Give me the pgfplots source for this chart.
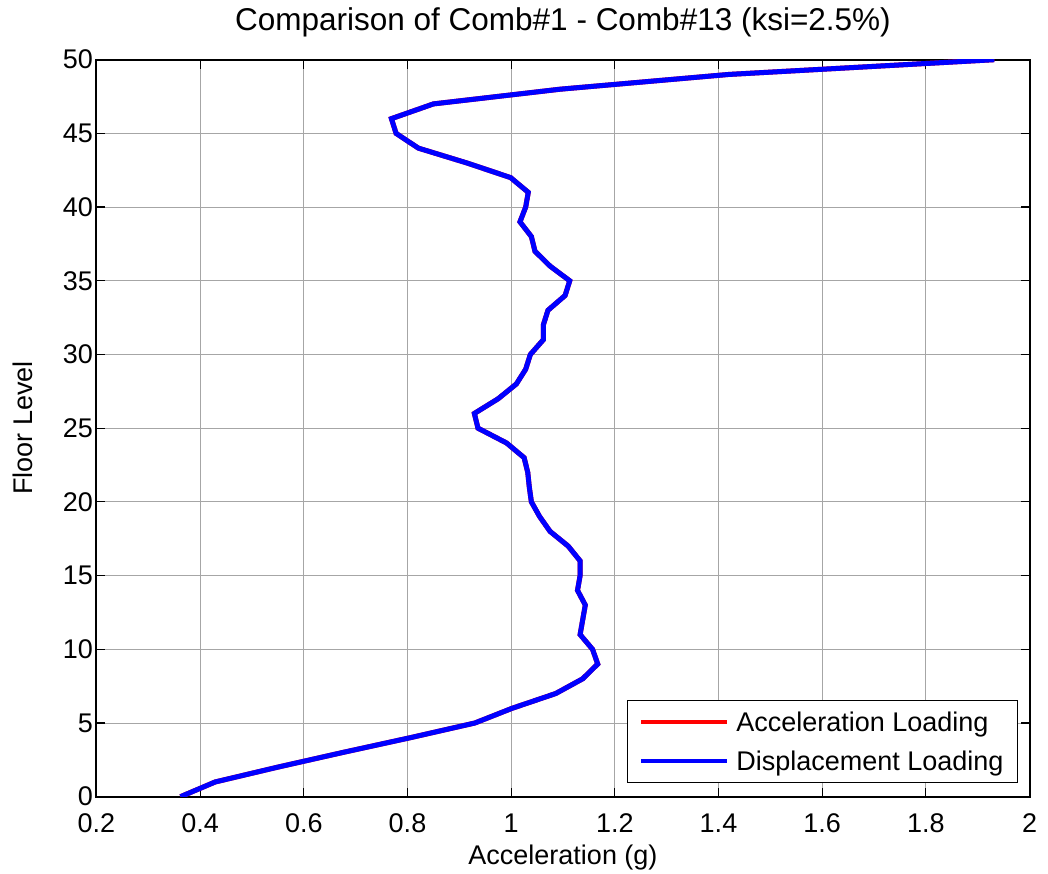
\documentclass[border=0pt]{standalone}
\usepackage{pgfplots}
\pgfplotsset{compat=1.18}
\usepackage{fontspec}
\setmainfont{Liberation Sans}
\newcommand{\lbl}{\fontsize{27bp}{30bp}\selectfont}
\newcommand{\ttl}{\fontsize{31.5bp}{34bp}\selectfont}
\begin{document}
\begin{tikzpicture}
\begin{axis}[
  scale only axis,
  width=933bp, height=737bp,
  xmin=0.2, xmax=2, ymin=0, ymax=50,
  xtick={0.2,0.4,...,2.01},
  ytick={0,5,...,50},
  xticklabels={0.2,0.4,0.6,0.8,1,1.2,1.4,1.6,1.8,2},
  /pgf/number format/assume math mode=true,
  tick label style={font=\lbl},
  xticklabel style={anchor=base, yshift=-36bp},
  yticklabel style={anchor=east},
  tick align=inside,
  xtick pos=both, ytick pos=both,
  major tick length=9bp,
  tick style={black, line width=1.2bp},
  axis line style={black, line width=2bp},
  grid=major,
  grid style={gray!70, line width=0.9bp},
  xlabel={Acceleration (g)},
  ylabel={Floor Level},
  label style={font=\lbl},
  xlabel style={at={(axis description cs:0.5,-0.083)}, anchor=center},
  ylabel style={at={(axis description cs:-0.079,0.5)}, anchor=center, rotate=0},
  title={Comparison of Comb\#1 - Comb\#13 (ksi=2.5\%)},
  title style={font=\ttl, at={(axis description cs:0.5,1.043)}, anchor=center},
  legend style={at={(rel axis cs:0.988,0.018)}, anchor=south east,
    font=\lbl, draw=black, line width=1.5bp, inner xsep=12bp, inner ysep=9bp,
    row sep=14bp, /tikz/every odd column/.append style={column sep=5bp}},
  legend cell align=left,
  legend image code/.code={\draw[#1, line width=4bp] (0bp,0bp) -- (86bp,0bp);},
]
\addplot[red, line width=5bp] table[x=acc, y=floor] {
floor acc
0 0.362
1 0.429
2 0.549
3 0.675
4 0.805
5 0.930
6 1.002
7 1.086
8 1.138
9 1.167
10 1.157
11 1.133
12 1.138
13 1.143
14 1.128
15 1.133
16 1.133
17 1.110
18 1.075
19 1.055
20 1.039
21 1.035
22 1.032
23 1.025
24 0.991
25 0.936
26 0.929
27 0.975
28 1.010
29 1.028
30 1.037
31 1.062
32 1.062
33 1.071
34 1.104
35 1.113
36 1.075
37 1.046
38 1.039
39 1.017
40 1.028
41 1.033
42 0.999
43 0.914
44 0.821
45 0.778
46 0.769
47 0.850
48 1.095
49 1.420
50 1.932
};
\addlegendentry{Acceleration Loading}
\addplot[blue, line width=5bp] table[x=acc, y=floor] {
floor acc
0 0.362
1 0.429
2 0.549
3 0.675
4 0.805
5 0.930
6 1.002
7 1.086
8 1.138
9 1.167
10 1.157
11 1.133
12 1.138
13 1.143
14 1.128
15 1.133
16 1.133
17 1.110
18 1.075
19 1.055
20 1.039
21 1.035
22 1.032
23 1.025
24 0.991
25 0.936
26 0.929
27 0.975
28 1.010
29 1.028
30 1.037
31 1.062
32 1.062
33 1.071
34 1.104
35 1.113
36 1.075
37 1.046
38 1.039
39 1.017
40 1.028
41 1.033
42 0.999
43 0.914
44 0.821
45 0.778
46 0.769
47 0.850
48 1.095
49 1.420
50 1.932
};
\addlegendentry{Displacement Loading}
\end{axis}
\pgfresetboundingbox
\path ([xshift=-96.5bp,yshift=-77.3bp]current axis.south west) rectangle ([xshift=18.5bp,yshift=59.7bp]current axis.north east);
\end{tikzpicture}
\end{document}
